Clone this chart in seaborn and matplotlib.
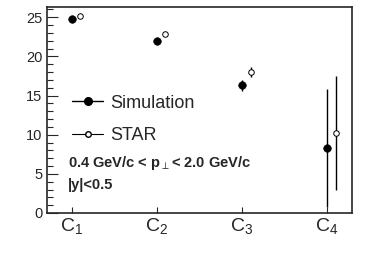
import numpy as np
import pandas as pd
import seaborn as sns
from matplotlib import pyplot as plt
from matplotlib.lines import Line2D
from matplotlib.ticker import MultipleLocator

# cumulant order labels and values
orders = [r'C$_1$', r'C$_2$', r'C$_3$', r'C$_4$']
sim_values = [24.8, 22.0, 16.3, 8.3]
sim_errors = [0.15, 0.2, 0.7, 7.5]
star_values = [25.1, 22.9, 18.0, 10.2]
star_errors = [0.1, 0.15, 0.7, 7.3]

sns.set_style('ticks')
plt.rcParams['font.family'] = ['Liberation Sans', 'DejaVu Sans']
plt.rcParams['mathtext.fontset'] = 'custom'
plt.rcParams['mathtext.rm'] = 'Liberation Sans'

fig = plt.figure(figsize = (3.82, 2.58), dpi = 100)
ax = fig.add_axes([47/382, 1 - 213/258, 305/382, 206/258])

x = np.arange(1, len(orders) + 1)
df_sim = pd.DataFrame({'x': x, 'y': sim_values})
df_star = pd.DataFrame({'x': x + 0.1, 'y': star_values})

ax.errorbar(df_sim.x, df_sim.y, yerr = sim_errors, fmt = 'none', ecolor = 'black', elinewidth = 1, capsize = 0)
ax.errorbar(df_star.x, df_star.y, yerr = star_errors, fmt = 'none', ecolor = 'black', elinewidth = 1, capsize = 0)
sns.scatterplot(data = df_sim, x = 'x', y = 'y', ax = ax, color = 'black', s = 30, edgecolor = 'black', zorder = 3)
sns.scatterplot(data = df_star, x = 'x', y = 'y', ax = ax, facecolor = 'white', edgecolor = 'black', s = 16, linewidth = 0.7, zorder = 3)

ax.set_xlim(0.706, 4.294)
ax.set_ylim(0, 26.3)
ax.set_xticks(x)
ax.set_xticklabels(orders, fontsize = 14)
ax.yaxis.set_major_locator(MultipleLocator(5))
ax.yaxis.set_minor_locator(MultipleLocator(1))
ax.tick_params(axis = 'y', which = 'major', direction = 'in', length = 8, labelsize = 10.5, width = 0.8)
ax.tick_params(axis = 'y', which = 'minor', direction = 'in', length = 4, width = 0.8)
ax.tick_params(axis = 'x', which = 'major', direction = 'in', length = 4, width = 0.8, pad = 3)
ax.set_xlabel('')
ax.set_ylabel('')
for s in ax.spines.values():
    s.set_linewidth(1.2)

handles = [Line2D([], [], color = 'black', marker = 'o', markersize = 5.5, lw = 1),
           Line2D([], [], color = 'black', marker = 'o', markersize = 4, markerfacecolor = 'white', lw = 0.8)]
ax.legend(handles, ['Simulation', 'STAR'], loc = 'center left', bbox_to_anchor = (0.03, 0.455),
          frameon = False, fontsize = 13, handlelength = 1.7, labelspacing = 0.85, handletextpad = 0.4)

ax.text(0.07, 0.245, r'0.4 GeV/c < p$_{\perp}$< 2.0 GeV/c', transform = ax.transAxes,
        fontsize = 10.5, fontweight = 'bold', va = 'center')
ax.text(0.07, 0.135, '|y|<0.5', transform = ax.transAxes, fontsize = 10.5, fontweight = 'bold', va = 'center')

plt.savefig('out.png', dpi = 100)
